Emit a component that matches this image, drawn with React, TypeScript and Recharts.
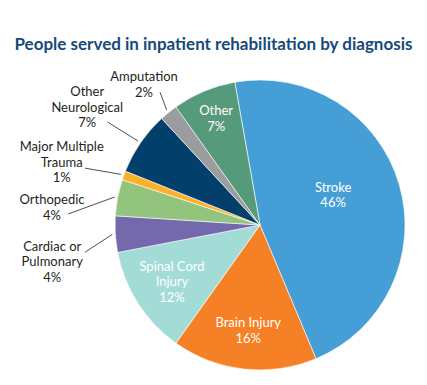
import React from "react";
import { PieChart, Pie, Cell } from "recharts";

// ---- data ----
const categories = [
  "Stroke",
  "Brain Injury",
  "Spinal Cord Injury",
  "Cardiac or Pulmonary",
  "Orthopedic",
  "Major Multiple Trauma",
  "Other Neurological",
  "Amputation",
  "Other",
];
const percentages = [46, 16, 12, 4, 4, 1, 7, 2, 7];
const labelText = [
  ["Stroke"],
  ["Brain Injury"],
  ["Spinal Cord", "Injury"],
  ["Cardiac or", "Pulmonary"],
  ["Orthopedic"],
  ["Major Multiple", "Trauma"],
  ["Other", "Neurological"],
  ["Amputation"],
  ["Other"],
];
const title = "People served in inpatient rehabilitation by diagnosis";

// ---- styles ----
const colors = [
  "#459fd6",
  "#f58025",
  "#a3dbd6",
  "#7569ad",
  "#93c47d",
  "#fbb12b",
  "#023f6b",
  "#9a9c9f",
  "#569a7c",
];
// label layout in polar terms relative to each slice's mid angle
// inside: text radius + angle shift; outside: leader end & text centre
type Layout = {
  inside: boolean;
  textR: number;
  textDA: number;
  lineR?: number;
  lineDA?: number;
};
const layouts: Layout[] = [
  { inside: true, textR: 79, textDA: -5.9 },
  { inside: true, textR: 106, textDA: 0 },
  { inside: true, textR: 104.6, textDA: 0 },
  { inside: false, textR: 211, textDA: -6.4, lineR: 177, lineDA: -5.2 },
  { inside: false, textR: 208.7, textDA: -6.1, lineR: 192, lineDA: -7.6 },
  { inside: false, textR: 208, textDA: -2.4, lineR: 184, lineDA: -2 },
  { inside: false, textR: 209, textDA: -0.3, lineR: 184, lineDA: -0.5 },
  { inside: false, textR: 182, textDA: -0.5, lineR: 166, lineDA: 2.1 },
  { inside: true, textR: 115, textDA: 0.3 },
];

const data = categories.map((name, i) => ({ name, value: percentages[i] }));

const FONT = "Lato, 'Open Sans', sans-serif";
const LINE_H = 15.5;
const RAD = Math.PI / 180;

function renderLabel(props: any) {
  const { cx, cy, midAngle, outerRadius, index } = props;
  const lay = layouts[index];
  const lines = [...labelText[index], `${percentages[index]}%`];
  const pt = (r: number, dA: number) => {
    const a = (midAngle - dA) * RAD;
    return [cx + r * Math.cos(a), cy - r * Math.sin(a)];
  };
  const [tx, ty] = pt(lay.textR, lay.textDA);
  const firstBaseline = ty - ((lines.length - 1) * LINE_H) / 2 + 4.5;
  const fill = lay.inside ? "#ffffff" : "#231f20";
  let leader = null;
  if (!lay.inside) {
    const [x1, y1] = pt(outerRadius + 3, 0);
    const [x2, y2] = pt(lay.lineR as number, lay.lineDA as number);
    leader = (
      <line x1={x1} y1={y1} x2={x2} y2={y2} stroke="#231f20" strokeWidth={0.8} />
    );
  }
  return (
    <g key={`lbl-${index}`}>
      {leader}
      <text
        x={tx}
        y={firstBaseline}
        textAnchor="middle"
        fill={fill}
        fontFamily={FONT}
        fontSize={13}
      >
        {lines.map((l, i) => (
          <tspan key={i} x={tx} y={firstBaseline + i * LINE_H}>
            {l}
          </tspan>
        ))}
      </text>
    </g>
  );
}

export default function App() {
  return (
    <div style={{ position: "relative", width: 427, height: 385, background: "#fff" }}>
      <style>{`body{margin:0;}`}</style>
      <div
        style={{
          position: "absolute",
          top: 34,
          left: 0,
          width: 427,
          textAlign: "center",
          fontFamily: FONT,
          fontWeight: 700,
          fontSize: 17,
          color: "#164a7b",
          lineHeight: "20px",
          whiteSpace: "nowrap",
        }}
      >
        {title}
      </div>
      <PieChart width={427} height={385} margin={{ top: 0, right: 0, bottom: 0, left: 0 }}>
        <Pie
          data={data}
          dataKey="value"
          nameKey="name"
          cx={260}
          cy={225}
          outerRadius={145}
          startAngle={100}
          endAngle={-260}
          stroke="#ffffff"
          strokeWidth={0.6}
          isAnimationActive={false}
          labelLine={false}
          label={renderLabel}
        >
          {data.map((d, i) => (
            <Cell key={d.name} fill={colors[i]} />
          ))}
        </Pie>
      </PieChart>
    </div>
  );
}
